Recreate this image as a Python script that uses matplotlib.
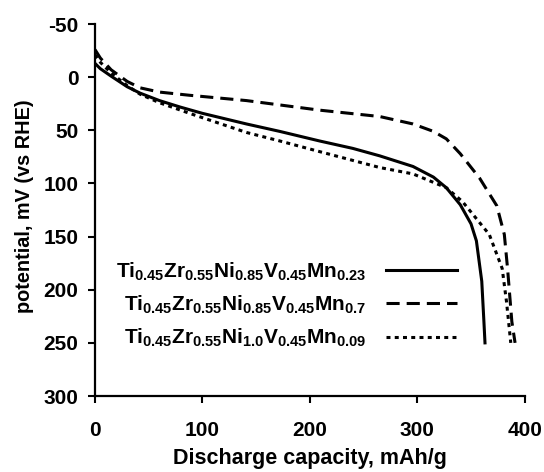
import matplotlib
matplotlib.use("Agg")
import matplotlib.pyplot as plt

plt.rcParams["font.family"] = "Liberation Sans"
plt.rcParams["font.weight"] = "bold"
plt.rcParams["axes.unicode_minus"] = False
plt.rcParams["mathtext.fontset"] = "custom"
plt.rcParams["mathtext.rm"] = "Liberation Sans:bold"
plt.rcParams["mathtext.it"] = "Liberation Sans:bold"
plt.rcParams["mathtext.bf"] = "Liberation Sans:bold"

# ── data ─────────────────────────────────────
mn023_x = [0, 5, 15, 30, 42, 60, 79, 100, 141, 172, 209, 240, 265, 296, 315, 327, 340, 350, 355, 360, 362, 363]
mn023_y = [-13, -8, -1, 9, 15, 22, 28, 34, 44, 51, 60, 67, 74, 84, 94, 104, 120, 138, 154, 192, 230, 250]

mn07_x = [0, 5, 15, 30, 42, 60, 88, 141, 209, 265, 296, 315, 327, 340, 358, 374, 381, 384, 388, 391]
mn07_y = [-26, -18, -7, 4, 10, 14, 17, 22, 31, 37, 44, 51, 58, 72, 95, 121, 148, 180, 230, 250]

mn009_x = [0, 5, 15, 30, 42, 60, 88, 141, 172, 209, 265, 296, 327, 342, 367, 379, 383, 387]
mn009_y = [-21, -14, -4, 8, 16, 24, 34, 52, 60, 70, 85, 91, 104, 117, 148, 180, 211, 250]

labels = [
    r"$Ti_{0.45}Zr_{0.55}Ni_{0.85}V_{0.45}Mn_{0.23}$",
    r"$Ti_{0.45}Zr_{0.55}Ni_{0.85}V_{0.45}Mn_{0.7}$",
    r"$Ti_{0.45}Zr_{0.55}Ni_{1.0}V_{0.45}Mn_{0.09}$",
]

x_ticks = [0, 100, 200, 300, 400]
y_ticks = [-50, 0, 50, 100, 150, 200, 250, 300]

# ── plot ─────────────────────────────────────
fig = plt.figure(figsize=(5.44, 4.72), dpi=100)
ax = fig.add_axes([0.1746, 0.161, 0.790, 0.788])

ax.plot(mn023_x, mn023_y, color="black", lw=2.2, label=labels[0])
ax.plot(mn07_x, mn07_y, color="black", lw=2.2, dashes=(4.3, 2.3), label=labels[1])
ax.plot(mn009_x, mn009_y, color="black", lw=2.2, dashes=(1.3, 1.4), label=labels[2])

ax.set_xlim(0, 400)
ax.set_ylim(300, -50)
ax.set_xticks(x_ticks)
ax.set_yticks(y_ticks)
ax.tick_params(axis="x", labelsize=15, length=5, width=1.5, pad=13)
ax.tick_params(axis="y", labelsize=15, length=5, width=1.5, pad=7)
for side in ["top", "right"]:
    ax.spines[side].set_visible(False)
for side in ["left", "bottom"]:
    ax.spines[side].set_linewidth(1.6)

ax.set_xlabel("Discharge capacity, mAh/g", fontsize=15.5, fontweight="bold")
ax.set_ylabel("potential, mV (vs RHE)", fontsize=14.3, fontweight="bold")
ax.xaxis.set_label_coords(0.5, -0.14)
ax.yaxis.set_label_coords(-0.142, 0.51)

ax.legend(loc="center", bbox_to_anchor=(0.526, 0.354), bbox_transform=fig.transFigure,
          frameon=False, markerfirst=False, fontsize=15, handlelength=3.4,
          labelspacing=0.52, handletextpad=0.96, borderaxespad=0, borderpad=0)

fig.savefig("out.png", dpi=100)
